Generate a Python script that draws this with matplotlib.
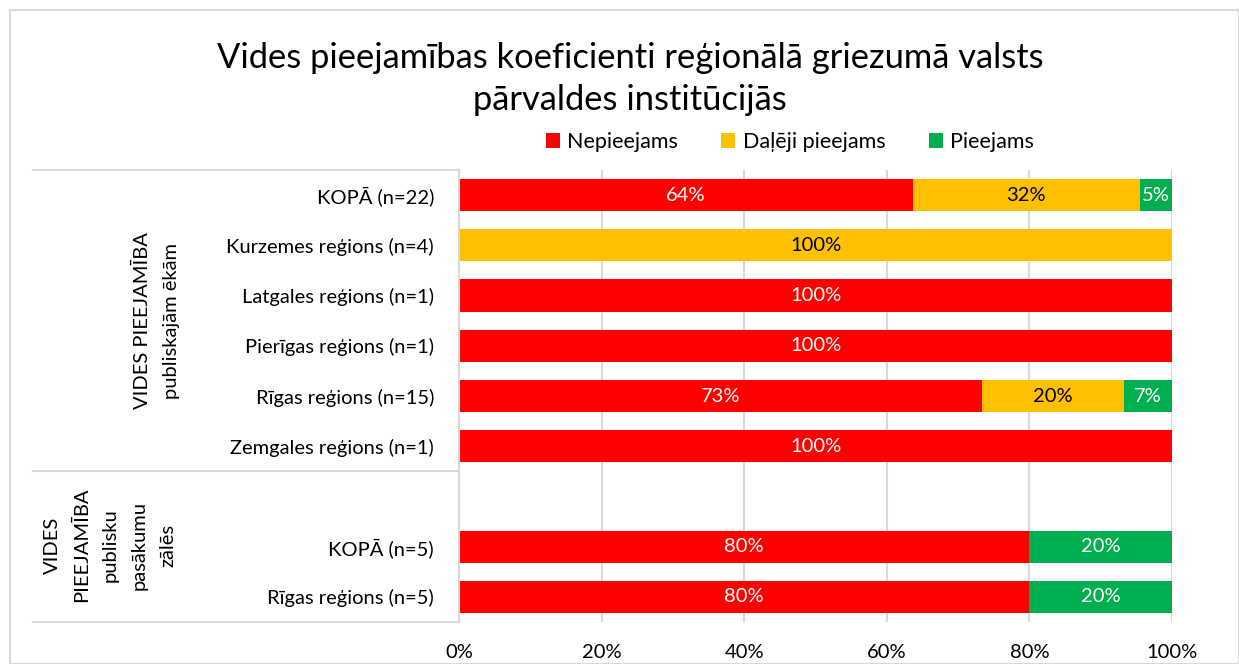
import matplotlib.pyplot as plt
import numpy as np
from matplotlib.lines import Line2D
from matplotlib.patches import Rectangle

plt.rcParams['font.family'] = ['Lato', 'DejaVu Sans']

categories = ["KOPĀ (n=22)", "Kurzemes reģions (n=4)", "Latgales reģions (n=1)",
              "Pierīgas reģions (n=1)", "Rīgas reģions (n=15)", "Zemgales reģions (n=1)",
              "", "KOPĀ (n=5)", "Rīgas reģions (n=5)"]
series = ["Nepieejams", "Daļēji pieejams", "Pieejams"]
nepieejams = [63.64, 0, 100, 100, 73.33, 100, 0, 80, 80]
dalji = [31.82, 100, 0, 0, 20.0, 0, 0, 0, 0]
pieejams = [4.55, 0, 0, 0, 6.67, 0, 0, 20, 20]
groups = ["VIDES PIEEJAMĪBA\npubliskajām ēkām",
          "VIDES\nPIEEJAMĪBA\npublisku\npasākumu\nzālēs"]

colors = ["#FF0000", "#FFC000", "#00B050"]
txtcol = ["white", "black", "white"]
fs = 14.5

W, H = 1239, 664
fig = plt.figure(figsize=(W / 100, H / 100), dpi=100)
ax = fig.add_axes([459 / W, 1 - 622 / H, (1172 - 459) / W, (622 - 170) / H])

y = np.arange(len(categories))
left = np.zeros(len(categories))
for vals, c, tc, name in zip([nepieejams, dalji, pieejams], colors, txtcol, series):
    vals = np.array(vals)
    bars = ax.barh(y, vals, left=left, height=0.64, color=c, label=name, zorder=2)
    for b, v in zip(bars, vals):
        if v > 0:
            ax.text(b.get_x() + b.get_width() / 2, b.get_y() + b.get_height() / 2,
                    f"{round(v + 0.001):.0f}%", ha='center', va='center', color=tc,
                    fontsize=fs, zorder=3)
    left += vals

ax.set_xlim(0, 100)
ax.set_ylim(len(categories) - 0.5, -0.5)
ax.set_xticks(np.arange(0, 101, 20))
ax.set_xticklabels([f"{t}%" for t in range(0, 101, 20)], fontsize=fs)
ax.set_yticks(y)
ax.set_yticklabels(categories, fontsize=fs)
ax.tick_params(axis='both', length=0)
ax.tick_params(axis='x', pad=16)
ax.tick_params(axis='y', pad=18)
ax.grid(axis='x', color='#D9D9D9', linewidth=1.5, zorder=0)
for s in ['top', 'right', 'bottom']:
    ax.spines[s].set_visible(False)
ax.spines['left'].set_color('#D9D9D9')
ax.spines['left'].set_linewidth(1.5)

# category table lines
for yy in [170, 471, 622]:
    fig.add_artist(Line2D([33 / W, 459 / W], [1 - yy / H, 1 - yy / H],
                          transform=fig.transFigure, color='#D9D9D9', linewidth=1.5))

fig.text(157 / W, 1 - 321 / H, groups[0], rotation=90, ha='center', va='center',
         fontsize=fs, linespacing=1.85)
fig.text(110 / W, 1 - 545 / H, groups[1], rotation=90, ha='center', va='center',
         fontsize=fs, linespacing=1.85)

fig.text(630 / W, 1 - 79 / H, "Vides pieejamības koeficienti reģionālā griezumā valsts\npārvaldes institūcijās",
         ha='center', va='center', fontsize=24.8, linespacing=1.42)

fig.legend(loc='center', bbox_to_anchor=(790 / W, 1 - 142 / H), ncol=3, frameon=False,
           fontsize=15.5, handlelength=0.65, handleheight=0.65, columnspacing=2.0, handletextpad=0.35)

fig.add_artist(Rectangle((10 / W, 0), 1 - 10 / W, 1 - 10 / H, transform=fig.transFigure,
                         fill=False, edgecolor='#D9D9D9', linewidth=1.5))

fig.savefig("out.png", dpi=100)
